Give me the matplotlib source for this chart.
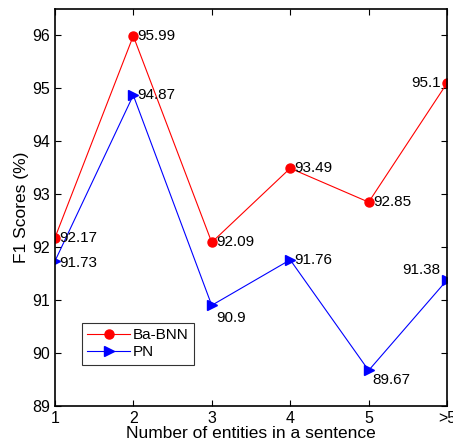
import matplotlib
matplotlib.use("Agg")
import matplotlib.pyplot as plt

plt.rcParams['font.family'] = ['Liberation Sans', 'DejaVu Sans']

x_labels = ['1', '2', '3', '4', '5', '>5']
ba_bnn = [92.17, 95.99, 92.09, 93.49, 92.85, 95.1]
pn = [91.73, 94.87, 90.9, 91.76, 89.67, 91.38]

# label offsets (points) relative to each marker
ba_offsets = [(3, 0), (3, 0), (3, 0), (3, 0), (3, 0), (-26, 0)]
pn_offsets = [(3, -1), (3, 0), (3, -9), (3, 0), (3, -7), (-32, 7)]

fig = plt.figure(figsize=(4.53, 4.48), dpi=100)
ax = fig.add_axes([0.121, 0.094, 0.866, 0.886])

xs = list(range(1, len(x_labels) + 1))
ax.plot(xs, ba_bnn, color='red', marker='o', markersize=6.5, linewidth=0.8, label='Ba-BNN')
ax.plot(xs, pn, color='blue', marker='>', markersize=6.5, linewidth=0.8, label='PN')

for x, y, off in zip(xs, ba_bnn, ba_offsets):
    ax.annotate(f"{y:g}", (x, y), xytext=off, textcoords='offset points', fontsize=11, va='center')
for x, y, off in zip(xs, pn, pn_offsets):
    ax.annotate(f"{y:g}", (x, y), xytext=off, textcoords='offset points', fontsize=11, va='center')

ax.set_xlim(1, 6)
ax.set_ylim(89, 96.5)
ax.set_xticks(xs)
ax.set_xticklabels(x_labels)
ax.set_yticks(range(89, 97))
ax.tick_params(direction='in', top=True, right=True, labelsize=11.5, length=4, width=0.8)
for s in ax.spines.values():
    s.set_linewidth(1.2)

ax.set_xlabel('Number of entities in a sentence', fontsize=12.5, labelpad=0)
ax.set_ylabel('F1 Scores (%)', fontsize=12.5, labelpad=2)

leg = ax.legend(loc='lower left', bbox_to_anchor=(0.05, 0.085), fontsize=11, frameon=True,
                fancybox=False, edgecolor='black', handlelength=2.8, borderpad=0.35,
                labelspacing=0.2, handletextpad=0.2, markerscale=1.0)
leg.get_frame().set_linewidth(0.8)

fig.savefig('out.png', dpi=100)
